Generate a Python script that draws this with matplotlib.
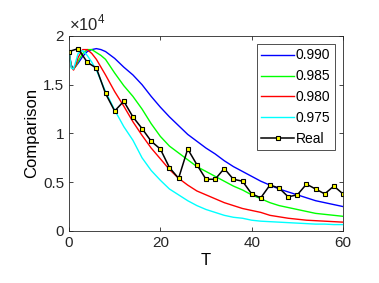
import matplotlib
matplotlib.use("Agg")
import matplotlib.pyplot as plt
from matplotlib.ticker import FuncFormatter

plt.rcParams['font.family'] = ['Liberation Sans', 'DejaVu Sans']
plt.rcParams['mathtext.fontset'] = 'custom'
plt.rcParams['mathtext.rm'] = 'Liberation Sans'

# curve sample times
t_curve = [0, 0.5, 1, 1.5, 2, 3, 4, 5, 6, 7, 8, 10, 12, 14, 16, 18, 20, 22, 24, 26, 28,
           30, 32, 34, 36, 38, 40, 42, 44, 46, 48, 50, 52, 54, 56, 58, 60]

# values in units of 1e4
c990 = [1.84, 1.70, 1.67, 1.69, 1.72, 1.79, 1.84, 1.86, 1.87, 1.86, 1.84, 1.77, 1.68, 1.60,
        1.50, 1.38, 1.27, 1.17, 1.08, 0.99, 0.92, 0.85, 0.79, 0.72, 0.66, 0.61, 0.56, 0.51,
        0.47, 0.43, 0.40, 0.37, 0.34, 0.31, 0.29, 0.27, 0.25]
c985 = [1.84, 1.69, 1.66, 1.69, 1.74, 1.82, 1.86, 1.86, 1.83, 1.80, 1.76, 1.62, 1.49, 1.38,
        1.25, 1.10, 0.97, 0.87, 0.80, 0.73, 0.66, 0.61, 0.56, 0.51, 0.46, 0.42, 0.37, 0.33,
        0.29, 0.26, 0.24, 0.22, 0.20, 0.18, 0.17, 0.16, 0.15]
c980 = [1.84, 1.68, 1.65, 1.70, 1.78, 1.86, 1.86, 1.82, 1.76, 1.68, 1.60, 1.43, 1.28, 1.12,
        0.98, 0.85, 0.74, 0.63, 0.54, 0.47, 0.41, 0.37, 0.33, 0.29, 0.26, 0.23, 0.21, 0.19,
        0.16, 0.145, 0.13, 0.12, 0.11, 0.105, 0.10, 0.095, 0.09]
c975 = [1.84, 1.67, 1.66, 1.74, 1.82, 1.85, 1.80, 1.73, 1.65, 1.54, 1.43, 1.24, 1.07, 0.93,
        0.75, 0.62, 0.52, 0.43, 0.37, 0.31, 0.26, 0.22, 0.19, 0.16, 0.14, 0.13, 0.11, 0.10,
        0.095, 0.09, 0.085, 0.08, 0.075, 0.07, 0.07, 0.065, 0.065]

t_real = list(range(0, 61, 2))
real = [1.84, 1.87, 1.73, 1.67, 1.41, 1.23, 1.33, 1.17, 1.05, 0.92, 0.84, 0.65, 0.54, 0.84,
        0.68, 0.53, 0.53, 0.64, 0.53, 0.51, 0.38, 0.34, 0.47, 0.44, 0.35, 0.37, 0.48, 0.43,
        0.38, 0.46, 0.38]

series = [("0.990", c990, "#0000ff"), ("0.985", c985, "#00ff00"),
          ("0.980", c980, "#ff0000"), ("0.975", c975, "#00ffff")]

fig = plt.figure(figsize=(3.79, 2.83), dpi=100)
ax = fig.add_axes([0.182, 0.184, 0.723, 0.689])

for label, vals, col in series:
    ax.plot(t_curve, [v * 1e4 for v in vals], color=col, lw=1.0, label=label)
ax.plot(t_real, [v * 1e4 for v in real], color="black", lw=1.1, marker="s", ms=3.2,
        mfc="yellow", mec="black", mew=0.8, label="Real")

ax.set_xlim(0, 60)
ax.set_ylim(0, 2e4)
ax.set_xticks([0, 20, 40, 60])
ax.set_yticks([0, 5000, 10000, 15000, 20000])
ax.yaxis.set_major_formatter(FuncFormatter(lambda v, p: f"{v / 1e4:g}"))
ax.text(0.0, 1.015, r"$\times 10^4$", transform=ax.transAxes, fontsize=12,
        ha="left", va="bottom", color="#262626")

ax.tick_params(direction="in", top=True, right=True, labelsize=11, length=3, width=0.6,
               colors="#262626")
for s in ax.spines.values():
    s.set_linewidth(0.6)
    s.set_color("#262626")
ax.set_xlabel("T", fontsize=12, labelpad=2)
ax.set_ylabel("Comparison", fontsize=12, labelpad=3)

leg = ax.legend(loc="upper right", fontsize=10, frameon=True, fancybox=False,
                handlelength=2.4, handletextpad=0.1, borderpad=0.3, labelspacing=0.5,
                borderaxespad=0.6)
leg.get_frame().set_edgecolor("black")
leg.get_frame().set_linewidth(0.6)

fig.savefig("out.png", dpi=100)
